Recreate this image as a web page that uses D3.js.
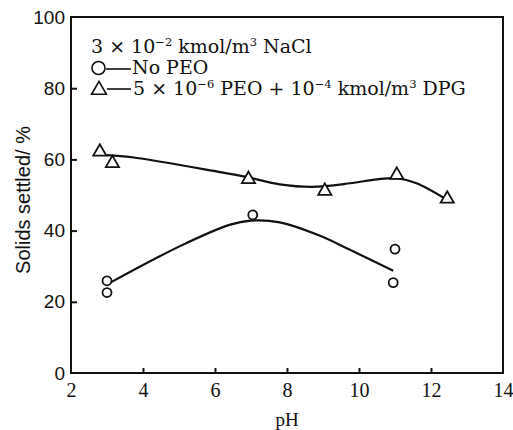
<!DOCTYPE html>
<html><head><meta charset="utf-8">
<script src="https://cdn.jsdelivr.net/npm/d3@7"></script>
<style>body{margin:0;background:#fff}svg{display:block}</style>
</head><body>
<script>
// Data
const xTicks = [2, 4, 6, 8, 10, 12, 14];
const yTicks = [0, 20, 40, 60, 80, 100];
// No PEO (circles)
const noPeoPH = [3.0, 3.0, 7.05, 11.0, 10.95];
const noPeoVal = [25.9, 22.6, 44.4, 34.8, 25.4];
// PEO + DPG (triangles)
const peoPH = [2.8, 3.15, 6.93, 9.05, 11.05, 12.45];
const peoVal = [62.4, 59.2, 54.7, 51.4, 55.9, 49.2];
// Hand-drawn fitted curves
const noPeoFitPH = [3.13, 5.0, 6.4, 7.0, 7.8, 8.9, 9.75, 10.95];
const noPeoFitVal = [25.6, 35.5, 41.6, 42.8, 42.3, 38.6, 34.6, 28.7];
const peoFitPH = [3.0, 3.7, 6.1, 6.9, 7.8, 8.7, 9.75, 10.5, 11.05, 11.6, 12.45];
const peoFitVal = [61.2, 60.6, 56.5, 55.0, 53.0, 52.3, 53.3, 54.4, 54.7, 53.3, 48.6];

const W = 513, H = 430;
const svg = d3.select("body").append("svg").attr("width", W).attr("height", H);
const x = d3.scaleLinear().domain([2, 14]).range([71, 503]);
const y = d3.scaleLinear().domain([0, 100]).range([373, 17]);

const serif = "'DejaVu Serif', 'Liberation Serif', serif";
const tserif = "'Liberation Serif', 'DejaVu Serif', serif";
const sans = "'Liberation Sans', Arial, sans-serif";

// frame
svg.append("rect").attr("x", x(2)).attr("y", y(100))
  .attr("width", x(14) - x(2)).attr("height", y(0) - y(100))
  .attr("fill", "none").attr("stroke", "#111").attr("stroke-width", 2);

// x axis
const xAxis = d3.axisBottom(x).tickValues(xTicks).tickSize(-5).tickPadding(10).tickFormat(d3.format("d"));
const gx = svg.append("g").attr("transform", `translate(0,${y(0)})`).call(xAxis);
gx.select(".domain").remove();
gx.selectAll("line").attr("stroke", "#111").attr("stroke-width", 2);
gx.selectAll("line").filter(d => d === 2 || d === 14).remove();
gx.selectAll("text").attr("font-family", tserif).attr("font-size", 20).attr("fill", "#111");

// y axis
const yAxis = d3.axisLeft(y).tickValues(yTicks).tickSize(-6).tickPadding(6).tickFormat(d3.format("d"));
const gy = svg.append("g").attr("transform", `translate(${x(2)},0)`).call(yAxis);
gy.select(".domain").remove();
gy.selectAll("line").attr("stroke", "#111").attr("stroke-width", 2);
gy.selectAll("line").filter(d => d === 0 || d === 100).remove();
gy.selectAll("text").attr("font-family", sans).attr("font-size", 19).attr("fill", "#111");

// axis titles
svg.append("text").attr("x", x(8)).attr("y", 426).attr("text-anchor", "middle")
  .attr("font-family", tserif).attr("font-size", 19).attr("fill", "#111").text("pH");
svg.append("text").attr("transform", `translate(30,200) rotate(-90)`).attr("text-anchor", "middle")
  .attr("font-family", sans).attr("font-size", 20).attr("fill", "#111").text("Solids settled/ %");

// curves
const line = d3.line().x(d => x(d[0])).y(d => y(d[1])).curve(d3.curveCatmullRom.alpha(0.5));
svg.append("path").datum(d3.zip(noPeoFitPH, noPeoFitVal)).attr("d", line)
  .attr("fill", "none").attr("stroke", "#111").attr("stroke-width", 2.2);
svg.append("path").datum(d3.zip(peoFitPH, peoFitVal)).attr("d", line)
  .attr("fill", "none").attr("stroke", "#111").attr("stroke-width", 2.2);

// markers
svg.append("g").selectAll("circle").data(d3.zip(noPeoPH, noPeoVal)).join("circle")
  .attr("cx", d => x(d[0])).attr("cy", d => y(d[1])).attr("r", 4.5)
  .attr("fill", "#fff").attr("stroke", "#111").attr("stroke-width", 1.8);
const tri = d3.symbol().type(d3.symbolTriangle).size(75);
svg.append("g").selectAll("path").data(d3.zip(peoPH, peoVal)).join("path")
  .attr("transform", d => `translate(${x(d[0])},${y(d[1]) + 1})`).attr("d", tri)
  .attr("fill", "#fff").attr("stroke", "#111").attr("stroke-width", 1.8);

// legend
const lg = svg.append("g").attr("font-family", serif).attr("font-size", 19).attr("fill", "#111");
function sup(t, s) { t.append("tspan").attr("font-size", 11.5).attr("dy", -7).text(s); }
const t1 = lg.append("text").attr("x", 91).attr("y", 53);
t1.append("tspan").text("3 × 10");
sup(t1, "−2");
t1.append("tspan").attr("dy", 7).text(" kmol/m");
sup(t1, "3");
t1.append("tspan").attr("dy", 7).text(" NaCl");

lg.append("circle").attr("cx", 98.5).attr("cy", 68).attr("r", 6.5).attr("fill", "none").attr("stroke", "#111").attr("stroke-width", 1.6);
lg.append("line").attr("x1", 106).attr("x2", 131).attr("y1", 69).attr("y2", 69).attr("stroke", "#111").attr("stroke-width", 1.6);
lg.append("text").attr("x", 132).attr("y", 74).text("No PEO");

lg.append("path").attr("transform", "translate(99,90)").attr("d", d3.symbol().type(d3.symbolTriangle).size(95))
  .attr("fill", "none").attr("stroke", "#111").attr("stroke-width", 1.6);
lg.append("line").attr("x1", 107).attr("x2", 131).attr("y1", 89).attr("y2", 89).attr("stroke", "#111").attr("stroke-width", 1.6);
const t3 = lg.append("text").attr("x", 133).attr("y", 95);
t3.append("tspan").text("5 × 10");
sup(t3, "−6");
t3.append("tspan").attr("dy", 7).text(" PEO + 10");
sup(t3, "−4");
t3.append("tspan").attr("dy", 7).text(" kmol/m");
sup(t3, "3");
t3.append("tspan").attr("dy", 7).text(" DPG");
</script>
</body></html>
